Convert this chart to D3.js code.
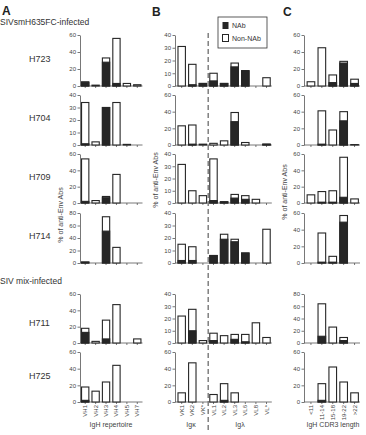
<!DOCTYPE html>
<html>
<head>
<meta charset="utf-8">
<script src="https://cdn.jsdelivr.net/npm/d3@7"></script>
<style>
  body { margin: 0; background: #fff; }
  svg { font-family: "Liberation Sans", Arial, sans-serif; }
  .axis path, .axis line { stroke: #555; stroke-width: 0.8; }
  .axis text { fill: #444; font-size: 6px; }
</style>
</head>
<body>
<svg id="chart" width="366" height="435"></svg>
<script>
// categories
var animals   = ["H723", "H704", "H709", "H714", "H711", "H725"];
var vhCats    = ["VH1", "VH2", "VH3", "VH4", "VH5", "VH7"];
var lightCats = ["VK1", "VK2", "VK*", "VL1", "VL2", "VL3", "VL6", "VL8", "VL*"];
var cdr3Cats  = ["<11", "11-14", "15-18", "19-22", ">22"];

// A: IgH repertoire (% of anti-Env Abs), total and NAb part
var vhTotal = [
  [5, 1, 33, 56, 3, 1.5],
  [34, 2.5, 30, 34, 0.5, 0],
  [54, 3, 8, 35, 0, 0],
  [1.5, 0, 74, 25, 0, 0],
  [18, 2, 28, 47, 0, 5],
  [18, 13, 24, 44, 0, 0]
];
var vhNab = [
  [4, 0, 28, 3, 0, 0],
  [1, 0, 30, 0, 0, 0],
  [2, 0, 6.5, 0, 0, 0],
  [1.5, 0, 51, 0, 0, 0],
  [13, 0, 5, 0, 0, 0],
  [2, 0, 0, 0, 0, 0]
];

// B: light chain
var lightTotal = [
  [31, 17, 2, 10, 2, 18, 12, 0, 6.5],
  [23, 24, 1, 2, 5, 39, 3, 0, 1],
  [31.5, 10, 6, 36, 1, 7, 6, 3, 0],
  [15, 13, 0, 6, 23, 19, 8, 0, 27],
  [22, 27.5, 2, 8, 6, 7, 7, 16.5, 4.5],
  [11, 47, 0, 9, 22, 11, 0, 0, 0]
];
var lightNab = [
  [0, 1, 2, 4, 2, 15, 12, 0, 0],
  [0, 1, 0, 0, 0, 28, 0, 0, 1],
  [0, 0, 0, 2, 1, 4, 3, 0, 0],
  [2, 2, 0, 6, 19, 17, 8, 0, 0],
  [0, 10, 0, 2, 0, 3, 1, 0, 0],
  [0, 0, 0, 0, 2, 0, 0, 0, 0]
];

// C: IgH CDR3 length
var cdr3Total = [
  [5, 45, 13, 29, 8],
  [0, 41, 18, 40, 0.5],
  [10, 14, 15, 56, 5],
  [0, 36, 8, 57, 0],
  [0, 64, 26, 9, 0],
  [0, 22, 42, 24, 11]
];
var cdr3Nab = [
  [0, 0, 4, 27, 3],
  [0, 1, 0, 29, 0],
  [0, 1, 1, 7, 0],
  [0, 1, 1, 49, 0],
  [0, 11, 0, 4, 0],
  [0, 2, 0, 0, 0]
];

// axis maxima per row
var yMaxA = [60, 40, 60, 80, 60, 60];
var yMaxB = [40, 60, 40, 40, 40, 60];
var yMaxC = [60, 60, 60, 60, 80, 60];

var svg = d3.select("#chart");
var rowTop    = [35, 95, 154, 213, 294, 352];
var rowBottom = [86, 145, 203, 263, 343, 402];
var dark = "#262626";

var panels = [
  {cats: vhCats,    total: vhTotal,    nab: vhNab,    yMax: yMaxA, axisX: 80,  range: [80, 142.5]},
  {cats: lightCats, total: lightTotal, nab: lightNab, yMax: yMaxB, axisX: 175, range: [176.4, 271.8]},
  {cats: cdr3Cats,  total: cdr3Total,  nab: cdr3Nab,  yMax: yMaxC, axisX: 304, range: [305.5, 360]}
];

panels.forEach(function(p) {
  var x = d3.scaleBand().domain(p.cats).range(p.range).paddingInner(0.3).paddingOuter(0.15);
  p.x = x;
  animals.forEach(function(a, r) {
    var y = d3.scaleLinear().domain([0, p.yMax[r]]).range([rowBottom[r], rowTop[r]]);
    var step = p.yMax[r] === 40 ? 10 : 20;
    var g = svg.append("g");

    g.append("g")
      .attr("class", "axis")
      .attr("transform", "translate(" + p.axisX + ",0)")
      .call(d3.axisLeft(y).tickValues(d3.range(0, p.yMax[r] + 1, step)).tickSize(2.5).tickPadding(1.5).tickSizeOuter(0));

    // x axis line with small ticks
    g.append("line").attr("class", "xl")
      .attr("x1", p.axisX).attr("x2", p.range[1])
      .attr("y1", rowBottom[r]).attr("y2", rowBottom[r])
      .attr("stroke", "#555").attr("stroke-width", 0.8);
    g.selectAll(".xt").data(p.cats).enter().append("line")
      .attr("x1", function(d) { return x(d) + x.bandwidth() / 2; })
      .attr("x2", function(d) { return x(d) + x.bandwidth() / 2; })
      .attr("y1", rowBottom[r]).attr("y2", rowBottom[r] + 2)
      .attr("stroke", "#555").attr("stroke-width", 0.8);

    var rows = p.cats.map(function(c, i) { return {c: c, t: p.total[r][i], n: p.nab[r][i]}; })
      .filter(function(d) { return d.t > 0; });

    g.selectAll(".tot").data(rows).enter().append("rect")
      .attr("x", function(d) { return x(d.c); })
      .attr("width", x.bandwidth())
      .attr("y", function(d) { return y(d.t); })
      .attr("height", function(d) { return y(0) - y(d.t); })
      .attr("fill", "#fff").attr("stroke", dark).attr("stroke-width", 1.1);

    g.selectAll(".nab").data(rows.filter(function(d) { return d.n > 0; })).enter().append("rect")
      .attr("x", function(d) { return x(d.c); })
      .attr("width", x.bandwidth())
      .attr("y", function(d) { return y(d.n); })
      .attr("height", function(d) { return y(0) - y(d.n); })
      .attr("fill", dark).attr("stroke", dark).attr("stroke-width", 1.1);
  });

  // rotated category labels under the last row
  svg.selectAll(null).data(p.cats).enter().append("text")
    .attr("transform", function(d) { return "translate(" + (x(d) + x.bandwidth() / 2 + 2) + ",405) rotate(-90)"; })
    .attr("text-anchor", "end")
    .attr("font-size", 6).attr("fill", "#444")
    .text(function(d) { return d; });
});

// row labels
animals.forEach(function(a, r) {
  var mid = [59, 118, 177, 236, 323, 376][r];
  svg.append("text").attr("x", 29).attr("y", mid + 3)
    .attr("font-size", 9).attr("fill", "#333").text(a);
});

// panel letters and group titles
[["A", 2, 15], ["B", 152, 16], ["C", 283, 16]].forEach(function(t) {
  svg.append("text").attr("x", t[1]).attr("y", t[2])
    .attr("font-size", 12).attr("font-weight", "bold").attr("fill", "#222").text(t[0]);
});
svg.append("text").attr("x", 0).attr("y", 25).attr("font-size", 8.5).attr("fill", "#333").text("SIVsmH635FC-infected");
svg.append("text").attr("x", 0).attr("y", 284).attr("font-size", 8.5).attr("fill", "#333").text("SIV mix-infected");

// y titles
[[63, 215], [158, 180], [287, 192]].forEach(function(t) {
  svg.append("text").attr("transform", "translate(" + t[0] + "," + t[1] + ") rotate(-90)")
    .attr("text-anchor", "middle").attr("font-size", 7).attr("fill", "#444").text("% of anti-Env Abs");
});

// x titles
svg.append("text").attr("x", 111).attr("y", 427).attr("text-anchor", "middle").attr("font-size", 7).attr("fill", "#444").text("IgH repertoire");
svg.append("text").attr("x", 191).attr("y", 427).attr("text-anchor", "middle").attr("font-size", 7).attr("fill", "#444").text("Igκ");
svg.append("text").attr("x", 240).attr("y", 427).attr("text-anchor", "middle").attr("font-size", 7).attr("fill", "#444").text("Igλ");
svg.append("text").attr("x", 333).attr("y", 427).attr("text-anchor", "middle").attr("font-size", 7).attr("fill", "#444").text("IgH CDR3 length");

// dashed kappa / lambda divider
var xb = panels[1].x;
var divX = (xb("VK*") + xb("VL1") + xb.bandwidth()) / 2;
svg.append("line").attr("x1", divX).attr("x2", divX).attr("y1", 33).attr("y2", 432)
  .attr("stroke", "#777").attr("stroke-width", 1.4).attr("stroke-dasharray", "5,3");

// legend
var lg = svg.append("g").attr("transform", "translate(218,17)");
lg.append("rect").attr("width", 49).attr("height", 31).attr("fill", "#fff").attr("stroke", "#333").attr("stroke-width", 0.8);
lg.append("rect").attr("x", 4.5).attr("y", 5).attr("width", 6).attr("height", 7).attr("fill", dark);
lg.append("rect").attr("x", 4.5).attr("y", 17.5).attr("width", 6).attr("height", 7).attr("fill", "#fff").attr("stroke", dark).attr("stroke-width", 1);
lg.append("text").attr("x", 14).attr("y", 11).attr("font-size", 7).attr("fill", "#333").text("NAb");
lg.append("text").attr("x", 14).attr("y", 23.5).attr("font-size", 7).attr("fill", "#333").text("Non-NAb");
</script>
</body>
</html>
